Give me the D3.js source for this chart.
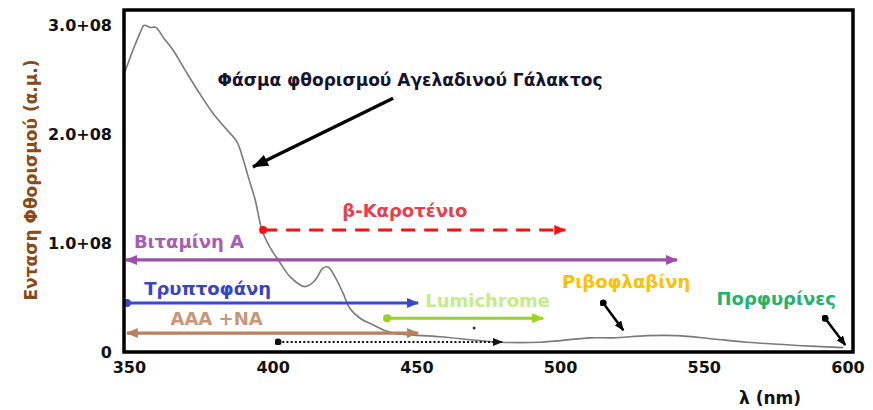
<!DOCTYPE html>
<html>
<head>
<meta charset="utf-8">
<script src="https://cdn.jsdelivr.net/npm/d3@7"></script>
<style>
  html, body { margin: 0; padding: 0; background: #fff; }
  svg { display: block; }
</style>
</head>
<body>
<svg id="chart" width="873" height="410"></svg>
<script>
// Fluorescence spectrum of cow's milk (wavelength in nm, intensity in a.u.)
const wavelength = [348.6, 351.4, 353.9, 355.3, 357.4, 359.4, 361.9, 365.4, 370.2, 374.7, 379.3, 384.1, 387.6,
  389.4, 391.5, 393.9, 396.3, 399.1, 402.6, 406.1, 411.3, 414.8, 417.5, 419.3, 421.7, 424.5, 426.9,
  430.4, 434.9, 440.9, 458.3, 479.1, 493.1, 510.4, 518.4, 530.3, 540.7, 553.2, 565.1, 582.5, 598.5];
const intensity = [2.57e8, 2.77e8, 2.93e8, 3.0e8, 2.98e8, 2.98e8, 2.89e8, 2.77e8, 2.56e8, 2.37e8, 2.19e8, 2.04e8, 1.93e8,
  1.80e8, 1.61e8, 1.40e8, 1.12e8, 0.96e8, 0.82e8, 0.69e8, 0.60e8, 0.66e8, 0.77e8, 0.78e8, 0.69e8, 0.54e8, 0.40e8,
  0.31e8, 0.25e8, 0.18e8, 0.14e8, 0.09e8, 0.09e8, 0.13e8, 0.13e8, 0.15e8, 0.15e8, 0.12e8, 0.09e8, 0.06e8, 0.04e8];

// Emission ranges of the fluorophores (nm) and the level they are drawn at
const rangeNames = ["β-Καροτένιο", "Βιταμίνη A", "Τρυπτοφάνη", "AAA +NA", "Lumichrome", ""];
const rangeStart = [396.7, 349.0, 349.3, 349.3, 439.8, 401.9];
const rangeEnd   = [501.8, 540.7, 450.6, 450.6, 494.1, 479.8];
const rangeLevel = [1.12e8, 0.845e8, 0.45e8, 0.174e8, 0.31e8, 0.092e8];
const rangeLabelAt = [446.0, 370.9, 377.4, 380.5, 474.8, 0];

// Pointer annotations
const pointerNames = ["Ριβοφλαβίνη", "Πορφυρίνες"];
const pointerFromX = [515.0, 592.2];
const pointerFromY = [0.45e8, 0.31e8];
const pointerToX   = [522.0, 599.2];
const pointerToY   = [0.20e8, 0.064e8];
const pointerLabelX = [523.0, 575.2];
const pointerLabelY = [0.65e8, 0.50e8];

const xTicks = [350, 400, 450, 500, 550, 600];
const yTicks = [0, 1e8, 2e8, 3e8];
const yTickLabels = ["0", "1.0+08", "2.0+08", "3.0+08"];

const titleText = "Φάσμα φθορισμού Αγελαδινού Γάλακτος";
const xTitle = "λ (nm)";
const yTitle = "Ενταση Φθορισμού (α.μ.)";

// Styles
const rangeStyle = [
  { line: "#ff1010", text: "#e8404a", dash: "14,9", startDot: true, startArrow: false, lift: 13 },
  { line: "#9c4ea8", text: "#a85cb8", dash: null, startDot: false, startArrow: true, lift: 12 },
  { line: "#3a48d0", text: "#3844c4", dash: null, startDot: true, startArrow: false, lift: 8 },
  { line: "#b8805c", text: "#c8967a", dash: null, startDot: false, startArrow: true, lift: 8 },
  { line: "#98d422", text: "#c4ec88", dash: null, startDot: true, startArrow: false, lift: 11 },
  { line: "#111111", text: "#111", dash: "2,2.2", startDot: true, startArrow: false, thin: true, lift: 0 }
];
const pointerColors = ["#ffc000", "#22b26a"];
const labelFont = { family: "DejaVu Sans", size: 18, weight: "bold" };

const svg = d3.select("#chart");
const x = d3.scaleLinear().domain([348.3, 601.9]).range([124, 853]);
const y = d3.scaleLinear().domain([0, 3.14e8]).range([352, 10]);

const defs = svg.append("defs");
function arrowMarker(id, color, len, wid) {
  defs.append("marker")
    .attr("id", id)
    .attr("markerUnits", "userSpaceOnUse")
    .attr("viewBox", `0 ${-wid / 2} ${len} ${wid}`)
    .attr("refX", len - 1).attr("refY", 0)
    .attr("markerWidth", len).attr("markerHeight", wid)
    .attr("orient", "auto-start-reverse")
    .append("path")
    .attr("d", `M0,${-wid / 2}L${len},0L0,${wid / 2}Z`)
    .attr("fill", color);
}
function dotMarker(id, color, r) {
  defs.append("marker")
    .attr("id", id)
    .attr("markerUnits", "userSpaceOnUse")
    .attr("viewBox", `${-r} ${-r} ${2 * r} ${2 * r}`)
    .attr("refX", 0).attr("refY", 0)
    .attr("markerWidth", 2 * r).attr("markerHeight", 2 * r)
    .append("circle").attr("r", r).attr("fill", color);
}

// Spectrum curve
const line = d3.line()
  .x((d, i) => x(wavelength[i]))
  .y(d => y(d))
  .curve(d3.curveCatmullRom.alpha(0.5));
svg.append("path")
  .datum(intensity)
  .attr("d", line)
  .attr("fill", "none")
  .attr("stroke", "#7a7a7a")
  .attr("stroke-width", 1.6);

// Range arrows
rangeNames.forEach((name, i) => {
  const st = rangeStyle[i];
  arrowMarker("ah" + i, st.line, st.thin ? 10 : 12, st.thin ? 8 : 10);
  dotMarker("dot" + i, st.line, st.thin ? 3.5 : 4);
  const p = svg.append("line")
    .attr("x1", x(rangeStart[i])).attr("x2", x(rangeEnd[i]))
    .attr("y1", y(rangeLevel[i])).attr("y2", y(rangeLevel[i]))
    .attr("stroke", st.line)
    .attr("stroke-width", st.thin ? 2 : 3.2)
    .attr("marker-end", `url(#ah${i})`);
  if (st.dash) p.attr("stroke-dasharray", st.dash);
  if (st.startDot) p.attr("marker-start", `url(#dot${i})`);
  if (st.startArrow) p.attr("marker-start", `url(#ah${i})`);
  if (name) {
    svg.append("text")
      .attr("x", x(rangeLabelAt[i]))
      .attr("y", y(rangeLevel[i]) - st.lift)
      .attr("text-anchor", "middle")
      .attr("font-family", labelFont.family)
      .attr("font-weight", labelFont.weight)
      .attr("font-size", labelFont.size)
      .attr("fill", st.text)
      .text(name);
  }
});

// Small stray dot beside the Lumichrome range
svg.append("circle").attr("cx", x(470.1)).attr("cy", y(0.22e8)).attr("r", 1.5).attr("fill", "#333");

// Pointer annotations
arrowMarker("blackhead", "#000", 10, 8);
dotMarker("blackdot", "#000", 3.5);
pointerNames.forEach((name, i) => {
  svg.append("line")
    .attr("x1", x(pointerFromX[i])).attr("y1", y(pointerFromY[i]))
    .attr("x2", x(pointerToX[i])).attr("y2", y(pointerToY[i]))
    .attr("stroke", "#000").attr("stroke-width", 2.5)
    .attr("marker-start", "url(#blackdot)")
    .attr("marker-end", "url(#blackhead)");
  svg.append("text")
    .attr("x", x(pointerLabelX[i])).attr("y", y(pointerLabelY[i]) + 7)
    .attr("text-anchor", "middle")
    .attr("font-family", labelFont.family)
    .attr("font-weight", labelFont.weight)
    .attr("font-size", labelFont.size)
    .attr("fill", pointerColors[i])
    .text(name);
});

// Title annotation with arrow pointing at the spectrum
arrowMarker("titlehead", "#000", 16, 12);
svg.append("line")
  .attr("x1", x(441.9)).attr("y1", y(2.33e8))
  .attr("x2", x(393.2)).attr("y2", y(1.70e8))
  .attr("stroke", "#000").attr("stroke-width", 3.5)
  .attr("marker-end", "url(#titlehead)");
svg.append("text")
  .attr("x", x(447.8)).attr("y", y(2.50e8) + 6)
  .attr("text-anchor", "middle")
  .attr("font-family", "DejaVu Sans")
  .attr("font-weight", "bold")
  .attr("font-size", 17)
  .attr("fill", "#141430")
  .text(titleText);

// Axes (labels only, no tick marks)
const xAxis = svg.append("g")
  .attr("transform", `translate(0,${y(0)})`)
  .call(d3.axisBottom(x).tickValues(xTicks).tickSize(0).tickPadding(10).tickFormat(d3.format("d")));
const yAxis = svg.append("g")
  .attr("transform", `translate(${x.range()[0]},0)`)
  .call(d3.axisLeft(y).tickValues(yTicks).tickSize(0).tickPadding(12)
    .tickFormat((d, i) => yTickLabels[i]));
[xAxis, yAxis].forEach(g => {
  g.select(".domain").remove();
  g.selectAll("text")
    .attr("font-family", "DejaVu Sans")
    .attr("font-weight", "bold")
    .attr("font-size", 16)
    .attr("fill", "#111");
});

// Plot frame
svg.append("rect")
  .attr("x", x.range()[0]).attr("y", y.range()[1])
  .attr("width", x.range()[1] - x.range()[0]).attr("height", y.range()[0] - y.range()[1])
  .attr("fill", "none").attr("stroke", "#000").attr("stroke-width", 3.5);

// Axis titles
svg.append("text")
  .attr("x", 770).attr("y", 404)
  .attr("text-anchor", "middle")
  .attr("font-family", "DejaVu Sans")
  .attr("font-weight", "bold")
  .attr("font-size", 17)
  .attr("fill", "#111")
  .text(xTitle);
svg.append("text")
  .attr("transform", "translate(37,180) rotate(-90)")
  .attr("text-anchor", "middle")
  .attr("font-family", "DejaVu Sans")
  .attr("font-weight", "bold")
  .attr("font-size", 17)
  .attr("fill", "#8a4a14")
  .text(yTitle);
</script>
</body>
</html>
